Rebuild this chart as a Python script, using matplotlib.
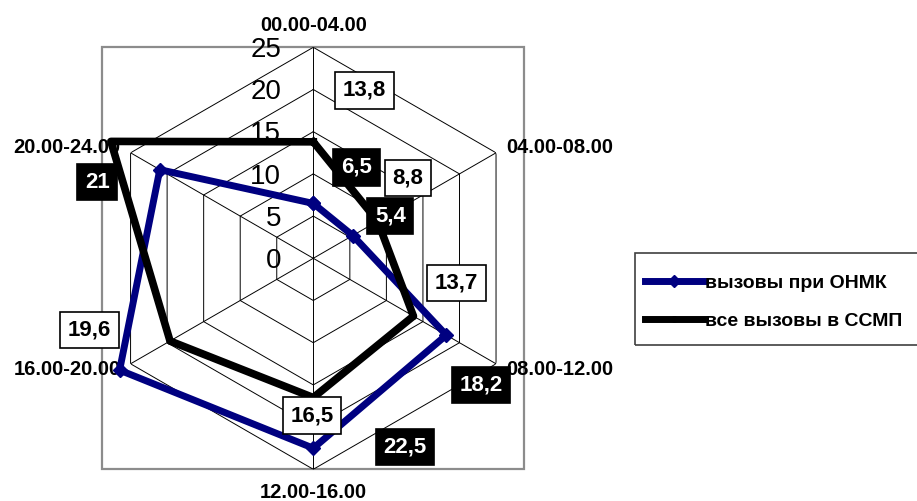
import numpy as np
import matplotlib
matplotlib.use('Agg')
import matplotlib.pyplot as plt
from matplotlib.patches import Rectangle
from matplotlib.lines import Line2D

plt.rcParams['font.family'] = ['Liberation Sans', 'DejaVu Sans']

# данные
categories = ['00.00-04.00', '04.00-08.00', '08.00-12.00',
              '12.00-16.00', '16.00-20.00', '20.00-24.00']
onmk = [6.5, 5.4, 18.2, 22.5, 26.5, 21]          # вызовы при ОНМК
ssmp = [13.8, 8.8, 13.7, 16.5, 19.6, 27.7]       # все вызовы в ССМП
onmk_labels = ['6,5', '5,4', '18,2', '22,5', None, '21']
ssmp_labels = ['13,8', '8,8', '13,7', '16,5', '19,6', None]
r_ticks = [0, 5, 10, 15, 20, 25]

# смещения подписей (в пунктах)
onmk_off = [(31, 26), (27, 14), (25, -36), (66, 1), None, (-45, -9)]
ssmp_off = [(37, 37), (22, 31), (31, 24), (-1, -13), (-58, 8), None]
cat_off = [((0, 16), 'center'), ((7, 4), 'left'), ((7, -4), 'left'),
           ((0, -17), 'center'), ((-7, -4), 'right'), ((-7, 4), 'right')]

W, H = 917, 501
fig = plt.figure(figsize=(W / 100, H / 100), dpi=100)
cx, cy, R = 313.3, 258.3, 211
ax = fig.add_axes([(cx - R) / W, (H - cy - R) / H, 2 * R / W, 2 * R / H],
                  projection='polar')
ax.set_theta_offset(np.pi / 2)
ax.set_theta_direction(-1)
ax.set_ylim(0, r_ticks[-1])
ax.set_xticks([])
ax.set_yticks([])
ax.grid(False)
ax.spines['polar'].set_visible(False)
ax.patch.set_visible(False)

n = len(categories)
theta = np.arange(n) * 2 * np.pi / n
theta_closed = np.append(theta, theta[0])

# рамка области построения
ax.add_patch(Rectangle((0, 0), 1, 1, transform=ax.transAxes, fill=False,
                       edgecolor='#8c8c8c', lw=1.6, clip_on=False, zorder=1))

# шестиугольная сетка
for r in r_ticks[1:]:
    ax.plot(theta_closed, [r] * (n + 1), color='black', lw=0.7, zorder=2)
for t in theta:
    ax.plot([t, t], [0, r_ticks[-1]], color='black', lw=0.7, zorder=2)

for r in r_ticks:
    ax.annotate(str(r), xy=(0, r), xytext=(-23, -2), textcoords='offset points',
                ha='right', va='center', fontsize=20, zorder=2)

for t, name, (off, ha) in zip(theta, categories, cat_off):
    ax.annotate(name, xy=(t, r_ticks[-1]), xytext=off, textcoords='offset points',
                ha=ha, va='center', fontsize=14.5, fontweight='bold', zorder=2,
                annotation_clip=False)

ax.plot(theta_closed, onmk + onmk[:1], color='#000080', lw=5, marker='D',
        ms=7, zorder=3, clip_on=False)
ax.plot(theta_closed, ssmp + ssmp[:1], color='black', lw=5.5, marker='o',
        ms=4, zorder=4, clip_on=False)

for vals, labels, offs, fc, tc in [(onmk, onmk_labels, onmk_off, 'black', 'white'),
                                   (ssmp, ssmp_labels, ssmp_off, 'white', 'black')]:
    for t, v, lab, off in zip(theta, vals, labels, offs):
        if lab is None:
            continue
        ax.annotate(lab, xy=(t, v), xytext=off, textcoords='offset points',
                    ha='center', va='center', fontsize=16, fontweight='bold',
                    color=tc, zorder=6, annotation_clip=False,
                    bbox=dict(boxstyle='square,pad=0.35', fc=fc, ec='black', lw=1.2))

# легенда: рамка уходит за правый край рисунка
fig.add_artist(Rectangle((635 / W, 1 - 345 / H), 300 / W, 92 / H,
                         transform=fig.transFigure, fill=False,
                         edgecolor='#404040', lw=1.2))
handles = [Line2D([], [], color='#000080', lw=5, marker='D', ms=6),
           Line2D([], [], color='black', lw=5, marker='o', ms=4)]
fig.legend(handles, ['вызовы при ОНМК', 'все вызовы в ССМП'],
           loc='upper left', bbox_to_anchor=(645 / W, 1 - 274 / H),
           prop={'weight': 'bold', 'size': 14}, frameon=False,
           handlelength=3.0, handletextpad=0.1, labelspacing=1.05,
           borderpad=0, borderaxespad=0)

fig.savefig('out.png', dpi=100)
